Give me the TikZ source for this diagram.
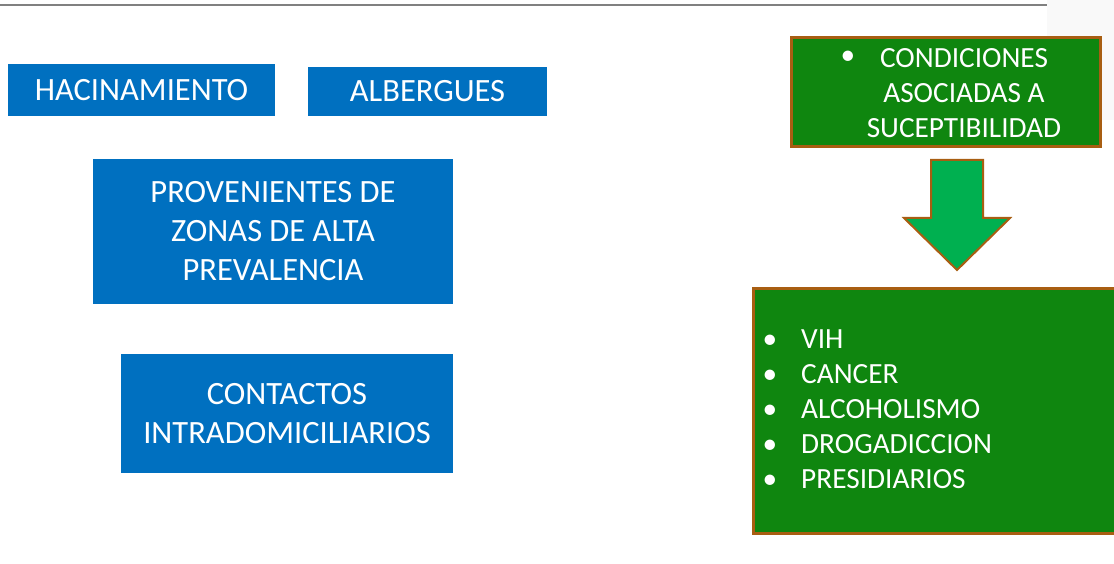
\documentclass[tikz,border=0pt]{standalone}
\usepackage{fontspec}
\setmainfont{Carlito}
\usepackage{xcolor}
\usepackage{tikz}
\usetikzlibrary{positioning}
\definecolor{boxblue}{RGB}{0,112,192}
\definecolor{boxgreen}{RGB}{15,134,15}
\definecolor{arrowgreen}{RGB}{0,176,80}
\definecolor{borderbrown}{RGB}{168,94,18}
\tikzset{
    bluebox/.style = {rectangle, fill=boxblue, text=white, align=center, inner sep=0pt, font=\fontsize{32.5}{39}\selectfont},
    greenbox/.style = {rectangle, fill=boxgreen, draw=borderbrown, line width=3pt},
    itemtext/.style = {text=white, inner sep=0pt, font=\fontsize{29.3}{35}\selectfont},
    downarrow/.style = {fill=arrowgreen, draw=borderbrown, line width=2pt, line join=miter},
}
\begin{document}
\begin{tikzpicture}[
    x=1pt,
    y=-1pt
  ]
  \useasboundingbox (0,0) rectangle (1114,564);
  \clip (0,0) rectangle (1114,564);
  \fill[gray!5] (1047,0) rectangle (1114,120);
  \draw[gray, line width=1.5pt] (0,5) -- (1047,5);

  \node[bluebox, minimum width=267, minimum height=52] (hacin) at (141.5,90) {HACINAMIENTO};
  \node[bluebox, minimum width=239, minimum height=49] (alberg) at (427.5,91.5) {ALBERGUES};
  \node[bluebox, minimum width=360, minimum height=145] (proven) at (273,231.5) {PROVENIENTES DE\\ZONAS DE ALTA\\PREVALENCIA};
  \node[bluebox, minimum width=332, minimum height=119] (contact) at (287,413.5) {CONTACTOS\\INTRADOMICILIARIOS};

  \node[greenbox, minimum width=308.5, minimum height=109] (cond) at (945.75,92) {};
  \node[itemtext, align=center] (condtxt) at (964,93) {CONDICIONES\\ASOCIADAS A\\SUCEPTIBILIDAD};
  \node[itemtext] (condbul) at (848,58) {\textbullet};

  \draw[downarrow] (931,160) -- (983,160) -- (983,218) -- (1010,218) -- (957,270) -- (904,218) -- (931,218) -- cycle;

  \node[greenbox, anchor=north west, minimum width=380, minimum height=245] (risk) at (751.5,286.5) {};
  \foreach \name [count=\i] in {VIH,CANCER,ALCOHOLISMO,DROGADICCION,PRESIDIARIOS}{
    \node[itemtext, anchor=base west] (item\i) at (801,313+35*\i) {\name};
    \node[itemtext, anchor=base] (bul\i) at (770,313+35*\i) {\textbullet};
  }
\end{tikzpicture}
\end{document}
